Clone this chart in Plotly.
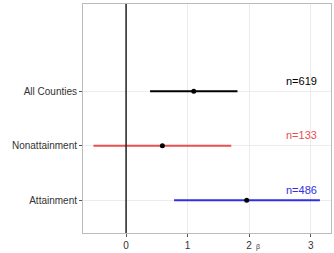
import plotly.graph_objects as go

groups = ["Attainment", "Nonattainment", "All Counties"]
estimates = [1.96, 0.59, 1.10]
lower = [0.78, -0.53, 0.39]
upper = [3.15, 1.71, 1.81]
n_labels = ["n=486", "n=133", "n=619"]
colors = ["#2f2fe6", "#e8504f", "#000000"]
ypos = [1, 2, 3]

fig = go.Figure()
for g, e, lo, hi, c, y in zip(groups, estimates, lower, upper, colors, ypos):
    fig.add_trace(go.Scatter(x=[lo, hi], y=[y, y], mode="lines",
                             line=dict(color=c, width=2), showlegend=False, hoverinfo="skip"))
    fig.add_trace(go.Scatter(x=[e], y=[y], mode="markers",
                             marker=dict(color="black", size=5), showlegend=False))
for lab, c, y in zip(n_labels, colors, ypos):
    fig.add_annotation(x=3.13, y=y + 0.19, text=lab, showarrow=False, xanchor="right",
                       yanchor="middle", font=dict(color=c, size=11, family="Liberation Sans, Arial"))

fig.add_vline(x=0, line=dict(color="#222222", width=1.5))
fig.add_annotation(x=2.15, y=-0.0873, xref="x", yref="paper", text="β", showarrow=False,
                   yanchor="bottom", xanchor="center", font=dict(size=7, color="#333333"))

fig.update_layout(
    width=334, height=253,
    margin=dict(l=83, r=3, t=4, b=20),
    plot_bgcolor="white", paper_bgcolor="white",
    font=dict(family="Liberation Sans, Arial", size=10, color="#222222"),
    xaxis=dict(range=[-0.7, 3.33], tickvals=[0, 1, 2, 3], showgrid=True, gridcolor="#ececec",
               gridwidth=1, zeroline=False, showline=True, linecolor="#bbbbbb", mirror=True,
               ticks="outside", ticklen=3, tickcolor="#555555", tickfont=dict(size=10, color="#333333"),
               automargin=False),
    yaxis=dict(range=[0.4, 4.6], tickvals=ypos, ticktext=groups, showgrid=True, gridcolor="#ececec",
               zeroline=False, showline=True, linecolor="#bbbbbb", mirror=True,
               ticks="outside", ticklen=3, tickcolor="#555555", tickfont=dict(size=10, color="#333333"),
               automargin=False),
)
fig.write_html("out.html")
